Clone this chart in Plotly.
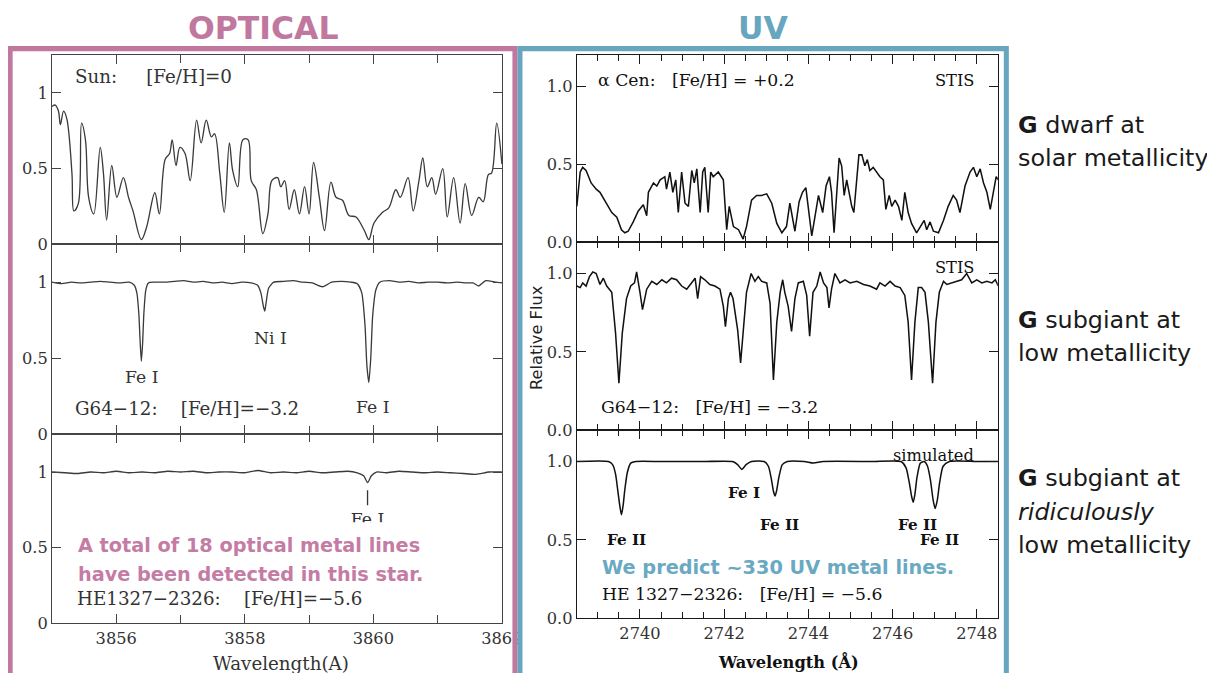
import plotly.graph_objects as go

# The photographed page is shrunk by about 1.5 %, and the body keeps an 8px margin.
S = 0.985          # page -> photo scale
OFF = 8            # default body margin (page px)
W, H = 1217, 675   # figure size in page px

# ---------------- DATA ----------------
# Optical, Sun
sun_wl = [3855.00, 3855.05, 3855.10, 3855.13, 3855.18, 3855.23, 3855.31, 3855.34, 3855.41, 3855.46,
          3855.52, 3855.57, 3855.65, 3855.75, 3855.80, 3855.85, 3855.93, 3856.01, 3856.11, 3856.19,
          3856.26, 3856.39, 3856.47, 3856.60, 3856.67, 3856.76, 3856.83, 3856.87, 3856.93, 3856.99,
          3857.07, 3857.15, 3857.25, 3857.32, 3857.40, 3857.48, 3857.53, 3857.61, 3857.68, 3857.76,
          3857.81, 3857.89, 3857.97, 3858.05, 3858.10, 3858.18, 3858.28, 3858.36, 3858.42, 3858.51,
          3858.56, 3858.62, 3858.69, 3858.77, 3858.85, 3858.93, 3859.00, 3859.07, 3859.16, 3859.24,
          3859.34, 3859.42, 3859.52, 3859.62, 3859.73, 3859.86, 3859.93, 3860.01, 3860.14, 3860.24,
          3860.35, 3860.42, 3860.54, 3860.62, 3860.71, 3860.77, 3860.84, 3860.91, 3860.97, 3861.08,
          3861.15, 3861.25, 3861.35, 3861.43, 3861.53, 3861.64, 3861.71, 3861.79, 3861.84, 3861.92,
          3862.00]
sun_flux = [0.91, 0.92, 0.88, 0.79, 0.88, 0.83, 0.47, 0.22, 0.27, 0.80,
            0.69, 0.31, 0.20, 0.64, 0.47, 0.16, 0.52, 0.31, 0.44, 0.31,
            0.22, 0.03, 0.11, 0.34, 0.20, 0.56, 0.60, 0.69, 0.52, 0.64,
            0.60, 0.42, 0.82, 0.67, 0.82, 0.71, 0.73, 0.47, 0.21, 0.67,
            0.49, 0.38, 0.69, 0.69, 0.42, 0.36, 0.07, 0.20, 0.42, 0.44,
            0.38, 0.42, 0.23, 0.36, 0.20, 0.38, 0.20, 0.54, 0.31, 0.09,
            0.41, 0.31, 0.29, 0.19, 0.18, 0.09, 0.03, 0.14, 0.21, 0.24,
            0.36, 0.31, 0.44, 0.22, 0.42, 0.57, 0.38, 0.44, 0.33, 0.50,
            0.18, 0.44, 0.14, 0.40, 0.19, 0.31, 0.28, 0.46, 0.47, 0.80,
            0.53]

# Optical, G64-12
g64opt_wl = [3855.00, 3855.15, 3855.30, 3855.45, 3855.60, 3855.75, 3855.90, 3856.05, 3856.20, 3856.28,
             3856.32, 3856.35, 3856.37, 3856.39, 3856.41, 3856.43, 3856.46, 3856.50, 3856.60, 3856.75,
             3856.90, 3857.05, 3857.20, 3857.35, 3857.50, 3857.65, 3857.80, 3857.95, 3858.10, 3858.20,
             3858.25, 3858.29, 3858.31, 3858.33, 3858.37, 3858.45, 3858.60, 3858.75, 3858.90, 3859.05,
             3859.21, 3859.35, 3859.50, 3859.65, 3859.75, 3859.82, 3859.87, 3859.90, 3859.93, 3859.96,
             3859.99, 3860.04, 3860.10, 3860.25, 3860.40, 3860.55, 3860.70, 3860.85, 3861.00, 3861.15,
             3861.30, 3861.45, 3861.55, 3861.64, 3861.75, 3861.90, 3862.00]
g64opt_flux = [1.00, 0.99, 1.00, 0.995, 1.00, 1.005, 1.00, 0.995, 1.00, 0.98,
               0.93, 0.80, 0.62, 0.48, 0.60, 0.80, 0.95, 0.995, 1.00, 1.00,
               1.005, 1.01, 1.00, 1.005, 0.995, 1.00, 0.99, 1.00, 0.995, 0.98,
               0.93, 0.84, 0.81, 0.86, 0.96, 1.00, 1.005, 1.01, 1.00, 0.995,
               0.97, 1.00, 1.005, 1.00, 0.99, 0.93, 0.72, 0.45, 0.34, 0.50,
               0.78, 0.95, 1.00, 1.01, 1.00, 1.005, 0.995, 1.00, 1.00, 0.995,
               1.00, 0.995, 0.995, 0.975, 1.01, 1.00, 0.995]

# Optical, HE1327-2326
he_opt_wl = [3855.00, 3855.20, 3855.40, 3855.60, 3855.80, 3856.00, 3856.20, 3856.40, 3856.60, 3856.80,
             3857.00, 3857.20, 3857.40, 3857.60, 3857.80, 3858.00, 3858.20, 3858.40, 3858.60, 3858.80,
             3859.00, 3859.20, 3859.40, 3859.60, 3859.75, 3859.85, 3859.91, 3859.97, 3860.05, 3860.20,
             3860.40, 3860.60, 3860.80, 3861.00, 3861.20, 3861.40, 3861.60, 3861.80, 3862.00]
he_opt_flux = [1.00, 0.995, 0.99, 1.00, 0.995, 1.005, 0.995, 1.00, 0.995, 1.005,
               1.00, 1.005, 0.995, 1.00, 1.00, 0.995, 1.01, 0.995, 1.00, 0.995,
               1.005, 0.995, 1.00, 1.005, 0.995, 0.975, 0.93, 0.975, 1.00, 0.995,
               1.005, 1.00, 0.995, 1.00, 0.995, 0.99, 0.985, 1.00, 1.00]
he_opt_marked_line = [3859.91]

# UV, alpha Cen (STIS)
acen_wl = [2738.50, 2738.55, 2738.58, 2738.64, 2738.72, 2738.84, 2738.96, 2739.05, 2739.21, 2739.33,
           2739.45, 2739.56, 2739.64, 2739.72, 2739.84, 2739.96, 2740.08, 2740.16, 2740.20, 2740.32,
           2740.40, 2740.48, 2740.59, 2740.63, 2740.71, 2740.78, 2740.85, 2740.91, 2740.99, 2741.07,
           2741.15, 2741.23, 2741.29, 2741.35, 2741.43, 2741.49, 2741.54, 2741.62, 2741.68, 2741.74,
           2741.86, 2741.98, 2742.06, 2742.12, 2742.22, 2742.34, 2742.45, 2742.53, 2742.65, 2742.77,
           2742.89, 2743.01, 2743.13, 2743.25, 2743.37, 2743.48, 2743.56, 2743.68, 2743.78, 2743.86,
           2743.94, 2744.00, 2744.08, 2744.16, 2744.24, 2744.34, 2744.42, 2744.50, 2744.55, 2744.61,
           2744.67, 2744.73, 2744.79, 2744.85, 2744.91, 2744.97, 2745.03, 2745.08, 2745.15, 2745.20,
           2745.27, 2745.34, 2745.40, 2745.46, 2745.54, 2745.62, 2745.70, 2745.78, 2745.84, 2745.92,
           2745.98, 2746.06, 2746.14, 2746.22, 2746.29, 2746.37, 2746.45, 2746.57, 2746.67, 2746.75,
           2746.81, 2746.89, 2746.97, 2747.09, 2747.21, 2747.32, 2747.44, 2747.52, 2747.60, 2747.72,
           2747.84, 2747.92, 2748.00, 2748.08, 2748.16, 2748.24, 2748.32, 2748.40, 2748.46, 2748.51]
acen_flux = [0.23, 0.40, 0.45, 0.48, 0.46, 0.38, 0.34, 0.32, 0.25, 0.19,
             0.16, 0.08, 0.06, 0.07, 0.13, 0.20, 0.24, 0.17, 0.32, 0.38,
             0.36, 0.40, 0.42, 0.34, 0.45, 0.32, 0.40, 0.19, 0.45, 0.25,
             0.23, 0.46, 0.38, 0.47, 0.19, 0.45, 0.48, 0.19, 0.45, 0.42,
             0.45, 0.40, 0.08, 0.23, 0.10, 0.08, 0.02, 0.10, 0.27, 0.30,
             0.30, 0.31, 0.25, 0.12, 0.06, 0.10, 0.25, 0.07, 0.26, 0.32,
             0.35, 0.23, 0.04, 0.17, 0.30, 0.19, 0.36, 0.42, 0.32, 0.06,
             0.32, 0.54, 0.49, 0.30, 0.40, 0.30, 0.23, 0.19, 0.40, 0.56,
             0.56, 0.49, 0.53, 0.46, 0.48, 0.45, 0.42, 0.40, 0.21, 0.30,
             0.23, 0.27, 0.23, 0.14, 0.32, 0.19, 0.12, 0.06, 0.10, 0.14,
             0.08, 0.13, 0.07, 0.06, 0.14, 0.23, 0.30, 0.27, 0.19, 0.36,
             0.45, 0.48, 0.42, 0.47, 0.38, 0.32, 0.21, 0.32, 0.42, 0.40]

# UV, G64-12 (STIS)
g64uv_wl = [2738.50, 2738.58, 2738.64, 2738.72, 2738.80, 2738.88, 2738.96, 2739.05, 2739.13, 2739.21,
            2739.33, 2739.42, 2739.50, 2739.58, 2739.68, 2739.78, 2739.87, 2739.92, 2740.00, 2740.06,
            2740.16, 2740.28, 2740.40, 2740.52, 2740.63, 2740.75, 2740.87, 2740.99, 2741.11, 2741.23,
            2741.31, 2741.37, 2741.44, 2741.54, 2741.66, 2741.78, 2741.90, 2741.98, 2742.03, 2742.10,
            2742.15, 2742.21, 2742.27, 2742.32, 2742.39, 2742.47, 2742.53, 2742.64, 2742.73, 2742.81,
            2742.89, 2743.01, 2743.09, 2743.17, 2743.25, 2743.33, 2743.39, 2743.44, 2743.52, 2743.60,
            2743.68, 2743.76, 2743.88, 2743.96, 2744.03, 2744.11, 2744.20, 2744.28, 2744.36, 2744.44,
            2744.49, 2744.55, 2744.63, 2744.75, 2744.87, 2744.99, 2745.15, 2745.31, 2745.46, 2745.62,
            2745.70, 2745.82, 2745.94, 2746.06, 2746.18, 2746.29, 2746.37, 2746.45, 2746.53, 2746.61,
            2746.69, 2746.77, 2746.85, 2746.95, 2747.03, 2747.11, 2747.21, 2747.29, 2747.40, 2747.52,
            2747.64, 2747.76, 2747.88, 2748.00, 2748.12, 2748.24, 2748.36, 2748.44, 2748.51]
g64uv_flux = [0.92, 0.91, 0.94, 0.92, 0.98, 1.01, 1.00, 0.93, 0.97, 0.92,
              0.88, 0.62, 0.30, 0.62, 0.84, 0.92, 0.94, 1.01, 0.88, 0.77,
              0.90, 0.95, 0.93, 0.96, 0.94, 0.97, 0.96, 0.92, 0.90, 0.94,
              0.97, 0.84, 0.98, 0.96, 0.93, 0.92, 0.90, 0.79, 0.66, 0.84,
              0.88, 0.84, 0.71, 0.64, 0.43, 0.71, 0.88, 1.00, 0.95, 0.98,
              0.95, 0.94, 0.81, 0.32, 0.69, 0.88, 0.96, 0.88, 0.79, 0.63,
              0.84, 0.94, 0.95, 0.86, 0.60, 0.88, 0.92, 1.01, 0.94, 0.91,
              0.78, 0.90, 1.00, 0.94, 0.96, 0.94, 0.95, 0.93, 0.92, 0.90,
              0.94, 0.92, 0.95, 0.92, 0.91, 0.86, 0.69, 0.32, 0.69, 0.91,
              0.91, 0.88, 0.69, 0.30, 0.69, 0.88, 0.95, 0.93, 0.94, 0.95,
              0.96, 1.00, 0.94, 0.96, 0.94, 0.95, 0.94, 0.96, 0.92]

# UV, HE 1327-2326 (simulated)
sim_wl = [2738.50, 2739.25, 2739.35, 2739.42, 2739.48, 2739.52, 2739.56, 2739.60, 2739.64, 2739.70,
          2739.78, 2739.90, 2740.50, 2741.50, 2742.20, 2742.32, 2742.42, 2742.52, 2742.65, 2742.95,
          2743.05, 2743.12, 2743.17, 2743.21, 2743.25, 2743.30, 2743.38, 2743.50, 2743.90, 2744.12,
          2744.35, 2745.50, 2746.20, 2746.32, 2746.40, 2746.45, 2746.49, 2746.53, 2746.58, 2746.66,
          2746.75, 2746.83, 2746.90, 2746.96, 2747.01, 2747.06, 2747.12, 2747.20, 2747.35, 2748.00,
          2748.51]
sim_flux = [1.00, 1.00, 0.98, 0.92, 0.80, 0.72, 0.66, 0.72, 0.82, 0.93,
            0.99, 1.00, 1.00, 1.00, 1.00, 0.98, 0.95, 0.98, 1.00, 1.00,
            0.97, 0.89, 0.81, 0.78, 0.82, 0.90, 0.98, 1.00, 1.00, 0.99,
            1.00, 1.00, 1.00, 0.96, 0.86, 0.78, 0.74, 0.79, 0.90, 0.99,
            1.00, 0.97, 0.88, 0.76, 0.70, 0.75, 0.87, 0.97, 1.00, 1.00,
            1.00]

opt_y_ticks = [0, 0.5, 1]
opt_y_text = ["0", "0.5", "1"]
uv_y_ticks = [0, 0.5, 1.0]
uv_y_text = ["0.0", "0.5", "1.0"]

# ---------------- STYLE ----------------
PINK = "#c0789e"
TEAL = "#68a6bf"
PINK_TXT = "#c47ca4"
TEAL_TXT = "#6aa9c2"
SERIF = "DejaVu Serif"
SANS = "DejaVu Sans"


def fx(px):
    # px: pixel column in the final 1215x673 photo
    return (px / S - OFF) / W


def fy(py):
    return 1 - (py / S - OFF) / H


def fs(v):
    # sizes (fonts, line widths, tick lengths) in photo px -> page px
    return v / S


fig = go.Figure()

panels = [
    # (x, y, line color, width, shape, smoothing)
    (sun_wl, sun_flux, "#3a3a3a", 1.3, "spline", 1.0),
    (g64opt_wl, g64opt_flux, "#3a3a3a", 1.3, "spline", 0.6),
    (he_opt_wl, he_opt_flux, "#3a3a3a", 1.3, "spline", 0.6),
    (acen_wl, acen_flux, "#111111", 1.5, "linear", 0),
    (g64uv_wl, g64uv_flux, "#111111", 1.5, "linear", 0),
    (sim_wl, sim_flux, "#111111", 1.5, "spline", 0.6),
]
for i, (xs, ys, col, lw, shp, sm) in enumerate(panels, start=1):
    sfx = "" if i == 1 else str(i)
    line = dict(color=col, width=fs(lw), shape=shp)
    if shp == "spline":
        line["smoothing"] = sm
    fig.add_trace(go.Scatter(x=xs, y=ys, mode="lines", line=line,
                             xaxis="x" + sfx, yaxis="y" + sfx, hoverinfo="skip",
                             showlegend=False))

# clipped "Fe I" label under the marked line (covered partly by the white box)
fig.add_trace(go.Scatter(x=he_opt_marked_line, y=[0.68], mode="text", text=["Fe I"],
                         textfont=dict(family=SERIF, size=fs(17), color="#333"),
                         xaxis="x3", yaxis="y3", hoverinfo="skip", showlegend=False))

opt_x_dom = [fx(52), fx(503)]
uv_x_dom = [fx(578), fx(1000)]
opt_y_doms = [[fy(244), fy(55)], [fy(434), fy(244)], [fy(623), fy(434)]]
uv_y_doms = [[fy(242), fy(55)], [fy(430), fy(242)], [fy(618), fy(430)]]

layout = dict(width=W, height=H, margin=dict(l=0, r=0, t=0, b=0),
              paper_bgcolor="white", plot_bgcolor="white", showlegend=False)

for i in range(1, 7):
    sfx = "" if i == 1 else str(i)
    optical = i <= 3
    bottom = i in (3, 6)
    lc = "#444" if optical else "#1a1a1a"
    if optical:
        xa = dict(domain=opt_x_dom, range=[3855, 3862.002], tick0=3856, dtick=2,
                  minor=dict(dtick=1, tick0=3855, ticks="inside", ticklen=fs(8), tickcolor=lc,
                             tickwidth=fs(1.2)))
        ya = dict(domain=opt_y_doms[i - 1], range=[0, 1.25], tickvals=opt_y_ticks, ticktext=opt_y_text)
    else:
        xa = dict(domain=uv_x_dom, range=[2738.5, 2748.5], tick0=2740, dtick=2,
                  minor=dict(dtick=0.5, tick0=2738.5, ticks="inside", ticklen=fs(6), tickcolor=lc,
                             tickwidth=fs(1.2)))
        ya = dict(domain=uv_y_doms[i - 4], range=[0, 1.2], tickvals=uv_y_ticks, ticktext=uv_y_text)
    common = dict(showgrid=False, zeroline=False, showline=True, linecolor=lc,
                  linewidth=fs(1), mirror="ticks", ticks="inside", ticklen=fs(9), tickcolor=lc,
                  tickwidth=fs(1.2), tickfont=dict(family=SERIF, size=fs(16), color="#333"))
    xa.update(anchor="y" + sfx, showticklabels=bottom, **common)
    ya.update(anchor="x" + sfx, **common)
    layout["xaxis" + sfx] = xa
    layout["yaxis" + sfx] = ya

fig.update_layout(**layout)

shapes = []
# marker tick under the weak Fe I line
shapes.append(dict(type="line", xref="x3", yref="y3", x0=he_opt_marked_line[0], x1=he_opt_marked_line[0],
                   y0=0.78, y1=0.88, line=dict(color="#333", width=fs(1.3))))
# white box behind the pink statement
shapes.append(dict(type="rect", xref="paper", yref="paper", x0=fx(61), x1=fx(455), y0=fy(587), y1=fy(522),
                   fillcolor="white", line=dict(width=0), layer="above"))
# frames
shapes.append(dict(type="rect", xref="paper", yref="paper", x0=fx(10), x1=fx(516), y0=fy(720), y1=fy(48.5),
                   line=dict(color=PINK, width=fs(5)), fillcolor="rgba(0,0,0,0)", layer="above"))
shapes.append(dict(type="rect", xref="paper", yref="paper", x0=fx(521), x1=fx(1008.5), y0=fy(720),
                   y1=fy(48.5), line=dict(color=TEAL, width=fs(5)), fillcolor="rgba(0,0,0,0)", layer="above"))
fig.update_layout(shapes=shapes)

NB = "\u00a0"


def ann(text, px, py, size=16, family=SERIF, color="#333", xanchor="left", angle=0):
    return dict(text=text, x=fx(px), y=fy(py), xref="paper", yref="paper", showarrow=False,
                xanchor=xanchor, yanchor="middle", textangle=angle,
                font=dict(family=family, size=fs(size), color=color))


anns = [
    ann("<b>OPTICAL</b>", 264, 28, size=31, family=SANS, color=PINK, xanchor="center"),
    ann("<b>UV</b>", 765, 28, size=31, family=SANS, color=TEAL, xanchor="center"),
    # optical labels
    ann("Sun:" + NB * 5 + "[Fe/H]=0", 73, 76, size=18),
    ann("Fe I", 123, 377, size=17),
    ann("Ni I", 252, 338, size=17),
    ann("Fe I", 355, 407, size=17),
    ann("G64−12:" + NB * 4 + "[Fe/H]=−3.2", 73, 408, size=18),
    ann("<b>A total of 18 optical metal lines</b>", 76, 545, size=19, family=SANS, color=PINK_TXT),
    ann("<b>have been detected in this star.</b>", 76, 574, size=19, family=SANS, color=PINK_TXT),
    ann("HE1327−2326:" + NB * 4 + "[Fe/H]=−5.6", 75, 598, size=18),
    ann("Wavelength(A)", 282, 663, size=18, xanchor="center"),
    # UV labels
    ann("α Cen:" + NB * 3 + "[Fe/H] = +0.2", 597, 80, size=17, color="#111"),
    ann("STIS", 978, 80, size=16, color="#111", xanchor="right"),
    ann("STIS", 978, 267, size=16, color="#111", xanchor="right"),
    ann("G64−12:" + NB * 3 + "[Fe/H] = −3.2", 600, 407, size=17, color="#111"),
    ann("simulated", 978, 455, size=16, color="#111", xanchor="right"),
    ann("<b>Fe I</b>", 728, 493, size=15, color="#111"),
    ann("<b>Fe II</b>", 606, 540, size=15, color="#111"),
    ann("<b>Fe II</b>", 760, 525, size=15, color="#111"),
    ann("<b>Fe II</b>", 898, 525, size=15, color="#111"),
    ann("<b>Fe II</b>", 920, 540, size=15, color="#111"),
    ann("<b>We predict ~330 UV metal lines.</b>", 601, 567, size=19, family=SANS, color=TEAL_TXT),
    ann("HE 1327−2326:" + NB * 3 + "[Fe/H] = −5.6", 601, 594, size=17, color="#111"),
    ann("<b>Wavelength (Å)</b>", 790, 661, size=16, color="#111", xanchor="center"),
    ann("Relative Flux", 537, 337, size=16, family=SANS, color="#222", xanchor="center", angle=-90),
    # right-hand descriptions
    ann("<b>G</b> dwarf at", 1018, 125, size=23.5, family=SANS, color="#1a1a1a"),
    ann("solar metallicity", 1018, 158, size=23.5, family=SANS, color="#1a1a1a"),
    ann("<b>G</b> subgiant at", 1018, 320, size=23.5, family=SANS, color="#1a1a1a"),
    ann("low metallicity", 1018, 353, size=23.5, family=SANS, color="#1a1a1a"),
    ann("<b>G</b> subgiant at", 1018, 478, size=23.5, family=SANS, color="#1a1a1a"),
    ann("<i>ridiculously</i>", 1018, 512, size=23.5, family=SANS, color="#1a1a1a"),
    ann("low metallicity", 1018, 545, size=23.5, family=SANS, color="#1a1a1a"),
]
fig.update_layout(annotations=anns)

fig.write_html("out.html", config={"displayModeBar": False})
